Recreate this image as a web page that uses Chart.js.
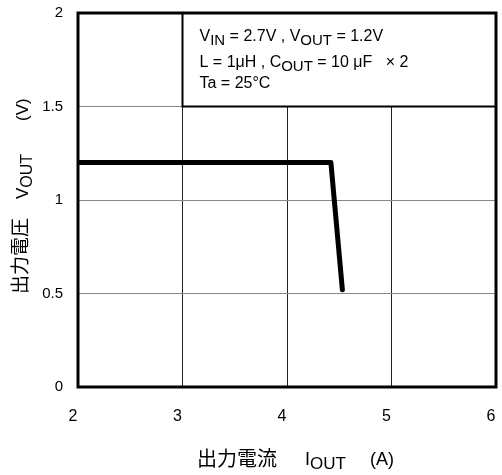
<!DOCTYPE html>
<html>
<head>
<meta charset="utf-8">
<script src="https://cdn.jsdelivr.net/npm/chart.js@4"></script>
<style>
  body { margin: 0; background: #fff; }
  #wrap { width: 502px; height: 475px; }
</style>
</head>
<body>
<div id="wrap"><canvas id="chart"></canvas></div>
<script>
// output current (A) vs output voltage (V)
const currentA = [2, 4.42, 4.53];
const voltageV = [1.2, 1.2, 0.52];
const xTicks = [2, 3, 4, 5, 6];
const yTicks = [0, 0.5, 1, 1.5, 2];

const font = '"Liberation Sans", Arial, sans-serif';
const jpFont = '"Noto Sans CJK JP", sans-serif';

// draw text runs, some of them subscripted
function drawRich(ctx, parts, x, y, size) {
    for (const p of parts) {
        const sub = p[1];
        ctx.font = (sub ? size - 1 : size) + 'px ' + font;
        ctx.fillText(p[0], x, sub ? y + 4 : y);
        x += ctx.measureText(p[0]).width;
    }
    return x;
}

const extras = {
    id: 'extras',
    afterDraw(chart) {
        const ctx = chart.ctx;
        const a = chart.chartArea;
        const xs = chart.scales.x, ys = chart.scales.y;
        ctx.save();

        // condition box
        const bx = xs.getPixelForValue(3), by = ys.getPixelForValue(2);
        const bw = xs.getPixelForValue(6) - bx, bh = ys.getPixelForValue(1.5) - by;
        ctx.fillStyle = '#fff';
        ctx.fillRect(bx, by, bw, bh);
        ctx.strokeStyle = '#000';
        ctx.lineWidth = 2;
        ctx.strokeRect(bx, by, bw, bh);

        ctx.fillStyle = '#000';
        ctx.textBaseline = 'alphabetic';
        ctx.textAlign = 'left';
        drawRich(ctx, [['V'], ['IN', 1], [' = 2.7V , V'], ['OUT', 1], [' = 1.2V']], bx + 17, by + 28, 16);
        drawRich(ctx, [['L = 1\u03bcH , C'], ['OUT', 1], [' = 10 \u03bcF   \u00d7 2']], bx + 17, by + 54, 16);
        drawRich(ctx, [['Ta = 25\u00b0C']], bx + 17, by + 75, 16);

        // frame
        ctx.lineWidth = 3;
        ctx.strokeRect(a.left, a.top, a.right - a.left, a.bottom - a.top);

        // x title
        ctx.font = '20px ' + jpFont;
        ctx.fillText('\u51fa\u529b\u96fb\u6d41', 197, 466);
        drawRich(ctx, [['I'], ['OUT', 1]], 305, 465, 18);
        drawRich(ctx, [['(A)']], 370, 465, 18);

        // y title (rotated)
        ctx.translate(28, 0);
        ctx.rotate(-Math.PI / 2);
        ctx.font = '19px ' + jpFont;
        ctx.fillText('\u51fa\u529b\u96fb\u5727', -294, -1);
        drawRich(ctx, [['V'], ['OUT', 1]], -199, 0, 17);
        drawRich(ctx, [['(V)']], -121, 0, 17);
        ctx.restore();
    }
};

new Chart('chart', {
    type: 'scatter',
    data: {
        datasets: [{
            data: currentA.map((x, i) => ({ x: x, y: voltageV[i] })),
            showLine: true,
            borderColor: '#000',
            borderWidth: 5,
            pointRadius: 0,
            borderCapStyle: 'round',
            borderJoinStyle: 'round'
        }]
    },
    options: {
        responsive: true,
        maintainAspectRatio: false,
        animation: false,
        layout: { padding: { top: 13, right: 6, left: 0, bottom: 0 } },
        plugins: { legend: { display: false }, tooltip: { enabled: false } },
        scales: {
            x: {
                type: 'linear',
                min: 2, max: 6,
                afterFit: (s) => { s.height = 88; s.paddingLeft = 0; s.paddingRight = 0; },
                afterBuildTicks: (s) => { s.ticks = xTicks.map(v => ({ value: v })); },
                grid: { color: '#222', lineWidth: 1, drawTicks: false },
                border: { display: false },
                ticks: { color: '#000', padding: 20, labelOffset: -5, maxRotation: 0, callback: v => String(v), font: { family: font, size: 16 } }
            },
            y: {
                type: 'linear',
                min: 0, max: 2,
                afterFit: (s) => { s.width = 78; s.paddingTop = 0; s.paddingBottom = 0; },
                afterBuildTicks: (s) => { s.ticks = yTicks.map(v => ({ value: v })); },
                grid: { color: '#888', lineWidth: 1, drawTicks: false },
                border: { display: false },
                ticks: { color: '#000', padding: 15, callback: v => String(v), font: { family: font, size: 15 } }
            }
        }
    },
    plugins: [extras]
});
</script>
</body>
</html>
